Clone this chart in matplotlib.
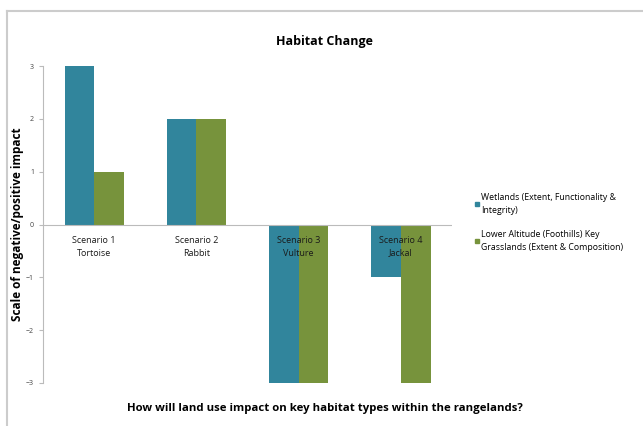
import numpy as np
import matplotlib.pyplot as plt
from matplotlib.lines import Line2D

plt.rcParams['font.family'] = ['Open Sans', 'DejaVu Sans']

# Data
scenarios = ['Scenario 1\nTortoise', 'Scenario 2\nRabbit', 'Scenario 3\nVulture', 'Scenario 4\nJackal']
wetlands = [3, 2, -3, -1]
grasslands = [1, 2, -3, -3]
series_names = ['Wetlands (Extent, Functionality &\nIntegrity)',
                'Lower Altitude (Foothills) Key\nGrasslands (Extent & Composition)']
colors = ['#31859C', '#77933C']

fig = plt.figure(figsize=(6.43, 4.26), dpi=100)
ax = fig.add_axes([0.067, 0.101, 0.636, 0.744])

x = np.arange(len(scenarios))
w = 0.29
ax.bar(x - w / 2, wetlands, w, color=colors[0], label=series_names[0])
ax.bar(x + w / 2, grasslands, w, color=colors[1], label=series_names[1])

ax.set_xlim(-0.5, len(scenarios) - 0.5)
ax.set_ylim(-3, 3)
ax.set_yticks(range(-3, 4))
ax.tick_params(axis='y', labelsize=5, length=3, color='#bbbbbb', labelcolor='#444444')
ax.set_xticks([])
for s in ['top', 'right', 'bottom']:
    ax.spines[s].set_visible(False)
ax.spines['left'].set_color('#bbbbbb')
ax.spines['left'].set_linewidth(0.8)
ax.axhline(0, color='#bbbbbb', lw=0.8)

# category labels just under the zero line
for xi, lab in zip(x, scenarios):
    ax.text(xi, -0.22, lab, ha='center', va='top', fontsize=6.5, color='#1a1a1a', linespacing=1.5)

ax.set_ylabel('Scale of negative/positive impact', fontsize=8.5, fontweight='bold')
ax.yaxis.set_label_coords(-0.047, 0.5)
fig.text(0.505, 0.902, 'Habitat Change', ha='center', va='center', fontsize=9, fontweight='bold')
fig.text(0.505, 0.04, 'How will land use impact on key habitat types within the rangelands?',
         ha='center', va='center', fontsize=8.2, fontweight='bold')

handles = [Line2D([], [], marker='s', ls='', color=c, markersize=3.5) for c in colors]
leg = fig.legend(handles, series_names, loc='center left', bbox_to_anchor=(0.725, 0.478),
                 frameon=False, fontsize=6.3, handletextpad=0.2, labelspacing=1.7, handlelength=0.6)
for t in leg.get_texts():
    t.set_linespacing(1.6)

# faint outer frame
fig.add_artist(Line2D([0.011, 0.011], [0, 0.975], color='#cccccc', lw=1.5, transform=fig.transFigure))
fig.add_artist(Line2D([0.011, 1], [0.975, 0.975], color='#cccccc', lw=1.5, transform=fig.transFigure))

plt.savefig('out.png', dpi=100)
